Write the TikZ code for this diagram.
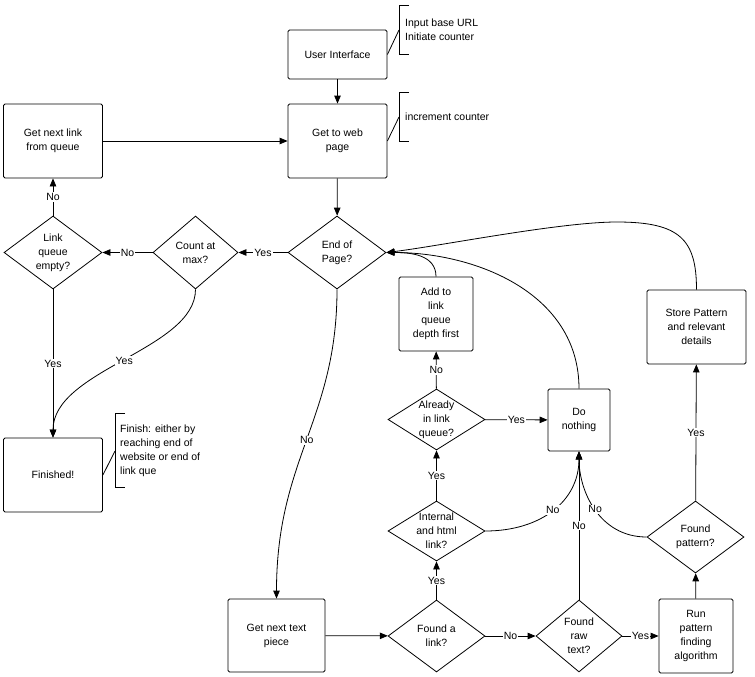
\documentclass[tikz,border=0pt]{standalone}
\usepackage{fontspec}
\setmainfont{Liberation Sans}
\usetikzlibrary{shapes.geometric,arrows.meta}
\begin{document}
\begin{tikzpicture}[x=1pt,y=-1pt,
  every node/.style={font=\fontsize{10.5}{14}\selectfont},
  box/.style={draw, rectangle, rounded corners=1.5pt, line width=0.8pt, align=center, inner sep=0pt},
  dec/.style={draw, diamond, line width=0.8pt, inner sep=0pt},
  arr/.style={-{Triangle[length=8pt,width=6.5pt]}, line width=0.8pt},
  ln/.style={line width=0.8pt},
  lbl/.style={fill=white, inner sep=1pt},
  note/.style={anchor=west, align=left, inner sep=0pt}]
\useasboundingbox (0,0) rectangle (755,677);

% boxes
\node[box, minimum width=99pt, minimum height=49pt] (ui) at (337.5,54.5) {User Interface};
\node[box, minimum width=99pt, minimum height=74pt] (web) at (337.5,141) {Get to web\\page};
\node[box, minimum width=99pt, minimum height=74pt] (next) at (53,141) {Get next link\\from queue};
\node[box, minimum width=99pt, minimum height=74pt] (fin) at (53,475) {Finished!};
\node[box, minimum width=74pt, minimum height=74pt] (add) at (436,314) {Add to\\link\\queue\\depth first};
\node[box, minimum width=62pt, minimum height=62pt] (dn) at (579,420) {Do\\nothing};
\node[box, minimum width=99pt, minimum height=74pt] (store) at (696.5,327) {Store Pattern\\and relevant\\details};
\node[box, minimum width=97pt, minimum height=73pt] (txt) at (276.5,635.5) {Get next text\\piece};
\node[box, minimum width=74pt, minimum height=74pt] (run) at (696,636) {Run\\pattern\\finding\\algorithm};

% decisions
\node[dec, minimum width=98pt, minimum height=73pt, label={[align=center]center:End of\\Page?}] (eop) at (337,252.5) {};
\node[dec, minimum width=85pt, minimum height=73pt, label={[align=center]center:Count at\\max?}] (cnt) at (195.5,252.5) {};
\node[dec, minimum width=98pt, minimum height=73pt, label={[align=center]center:Link\\queue\\empty?}] (lqe) at (53,252.5) {};
\node[dec, minimum width=97pt, minimum height=61pt, label={[align=center]center:Already\\in link\\queue?}] (alr) at (436.5,419.5) {};
\node[dec, minimum width=97pt, minimum height=60pt, label={[align=center]center:Internal\\and html\\link?}] (int) at (436.5,531) {};
\node[dec, minimum width=97pt, minimum height=72pt, label={[align=center]center:Found a\\link?}] (fal) at (436.5,636) {};
\node[dec, minimum width=86pt, minimum height=72pt, label={[align=center]center:Found\\raw\\text?}] (raw) at (579,636) {};
\node[dec, minimum width=97pt, minimum height=72pt, label={[align=center]center:Found\\pattern?}] (fpat) at (695.5,537) {};

% notes
\coordinate (br1) at (399,30);
\coordinate (br2) at (399,117);
\coordinate (br3) at (115,451);
\draw[ln] (409,5) -- (399,5) -- (399,54) -- (409,54);
\draw[ln] (409,92) -- (399,92) -- (399,141) -- (409,141);
\draw[ln] (125,413) -- (115,413) -- (115,487) -- (125,487);
\draw[ln] (ui.east) -- (br1);
\draw[ln] (web.east) -- (br2);
\draw[ln] (fin.east) -- (br3);
\node[note] (n1) at (405,30) {Input base URL\\Initiate counter};
\node[note] (n2) at (405,117) {increment counter};
\node[note] (n3) at (120,451) {Finish: either by\\reaching end of\\website or end of\\link que};

% connectors
\draw[arr] (ui) -- (web);
\draw[arr] (next) -- (web);
\draw[arr] (web) -- (eop);
\draw[arr] (eop) -- node[lbl]{Yes} (cnt);
\draw[arr] (cnt) -- node[lbl]{No} (lqe);
\draw[arr] (lqe) -- node[lbl]{No} (next);
\draw[arr] (lqe) -- node[lbl]{Yes} (fin);
\draw[arr] (cnt.south) .. controls +(0,60) and +(0,-68) .. node[lbl]{Yes} (fin.north);
\draw[arr] (eop.south) .. controls +(0,130) and +(0,-140) .. node[lbl]{No} (txt.north);
\draw[arr] (txt) -- (fal);
\draw[arr] (fal) -- node[lbl]{Yes} (int);
\draw[arr] (int) -- node[lbl]{Yes} (alr);
\draw[arr] (alr) -- node[lbl]{No} (add);
\draw[arr] (alr) -- node[lbl]{Yes} (dn);
\draw[arr] (fal) -- node[lbl]{No} (raw);
\draw[arr] (raw) -- node[lbl]{Yes} (run);
\draw[arr] (raw) -- node[lbl]{No} (dn);
\draw[arr] (run) -- (fpat);
\draw[arr] (fpat) -- node[lbl]{Yes} (store);
\draw[arr] (int.east) .. controls +(55,0) and +(0,50) .. node[lbl]{No} (dn.south);
\draw[arr] (fpat.west) .. controls +(-47,0) and +(0,40) .. node[lbl]{No} (dn.south);
\draw[arr] (add.north) .. controls +(0,-22) and +(24,0) .. (eop.east);
\draw[arr] (dn.north) .. controls +(0,-95) and +(90,0) .. (eop.east);
\draw[arr] (store.north) .. controls +(0,-50) and (680,222) .. (617,222) .. controls (560,222) and (440,246) .. (eop.east);
\end{tikzpicture}
\end{document}
